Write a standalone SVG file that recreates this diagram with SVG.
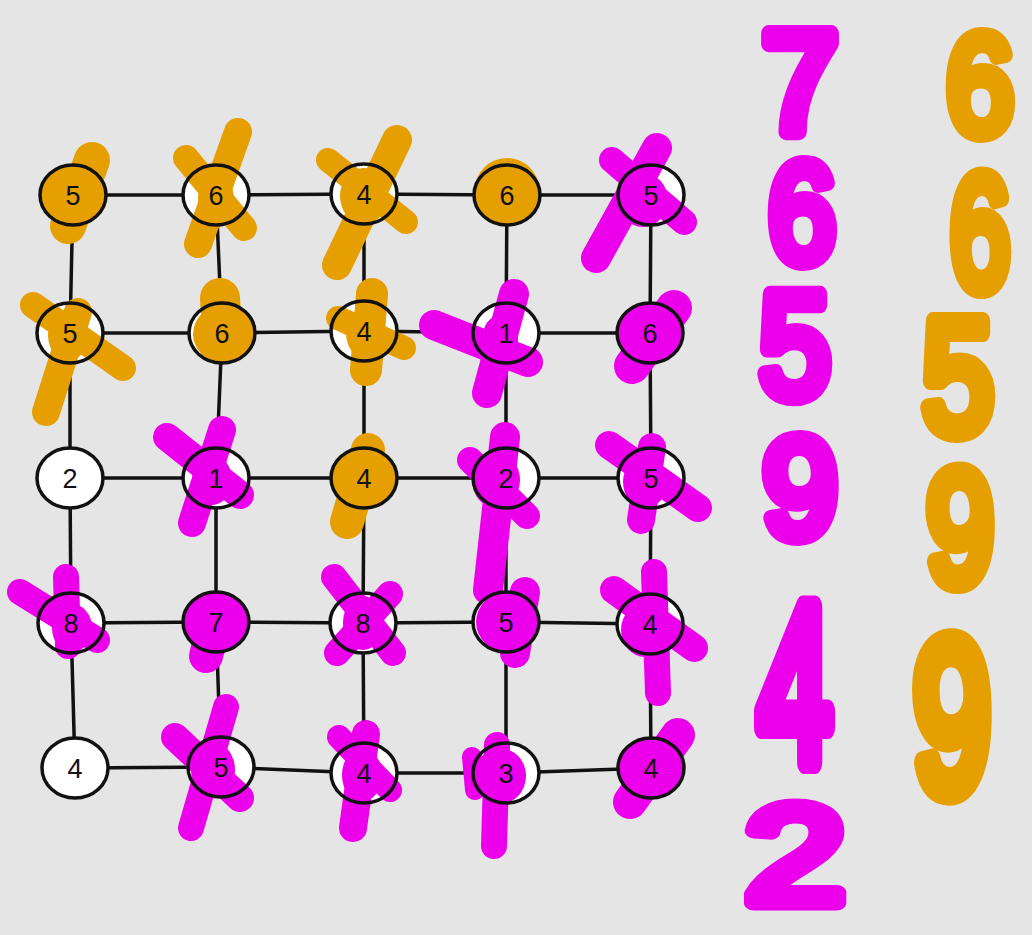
<svg xmlns="http://www.w3.org/2000/svg" width="1032" height="935" viewBox="0 0 1032 935">
<style>
.bg{fill:#e5e5e5}
.e{stroke:#111;stroke-width:3.5;fill:none}
.w{fill:#fff}
.po{stroke:#e69f00;fill:none;stroke-linecap:round;stroke-linejoin:round}
.pm{stroke:#ec00ec;fill:none;stroke-linecap:round;stroke-linejoin:round}
.fo{fill:#e69f00}
.fm{fill:#ec00ec}
.ring{fill:none;stroke:#111;stroke-width:3.5}
.lbl{font-family:"Liberation Sans",Arial,sans-serif;font-size:27px;fill:#111;text-anchor:middle}
.hm{font-family:"Liberation Sans",Arial,sans-serif;fill:#ec00ec;stroke:#ec00ec;stroke-width:15;stroke-linejoin:round;stroke-linecap:round;text-anchor:middle}
.ho{font-family:"Liberation Sans",Arial,sans-serif;fill:#e69f00;stroke:#e69f00;stroke-width:15;stroke-linejoin:round;stroke-linecap:round;text-anchor:middle}
</style>
<rect class="bg" x="0" y="0" width="1032" height="935"/>
<g id="connectors" class="e">
<polyline points="73,195 216,195 364,194 507,195 651,195"/>
<polyline points="70,333 222,333 364,331 506,333 650,333"/>
<polyline points="70,478 216,478 364,478 506,478 651,478"/>
<polyline points="71,623 216,622 363,623 506,622 650,624"/>
<polyline points="75,768 221,767 364,773 506,773 651,768"/>
<polyline points="73,195 70,333 70,478 71,623 75,768"/>
<polyline points="216,195 222,333 216,478 216,622 221,767"/>
<polyline points="364,194 364,331 364,478 363,623 364,773"/>
<polyline points="507,195 506,333 506,478 506,622 506,773"/>
<polyline points="651,195 650,333 651,478 650,624 651,768"/>
</g>
<g id="n11"><ellipse class="w" cx="73" cy="195" rx="33" ry="30"/><ellipse class="fo" cx="73" cy="195" rx="33" ry="30"/><path class="po" stroke-width="36" d="M92,160 L68,226"/><ellipse class="ring" cx="73" cy="195" rx="33" ry="30"/><text class="lbl" x="73" y="205">5</text></g>
<g id="n12"><ellipse class="w" cx="216" cy="195" rx="33" ry="30"/><ellipse class="fo" cx="216" cy="200" rx="18" ry="28"/><path class="po" stroke-width="28" d="M238,132 L198,244"/><path class="po" stroke-width="26" d="M186,158 L244,228"/><ellipse class="ring" cx="216" cy="195" rx="33" ry="30"/><text class="lbl" x="216" y="205">6</text></g>
<g id="n13"><ellipse class="w" cx="364" cy="194" rx="33" ry="30"/><ellipse class="fo" cx="364" cy="196" rx="24" ry="28"/><path class="po" stroke-width="30" d="M397,140 L337,265"/><path class="po" stroke-width="24" d="M328,160 L406,222"/><ellipse class="ring" cx="364" cy="194" rx="33" ry="30"/><text class="lbl" x="364" y="204">4</text></g>
<g id="n14"><ellipse class="w" cx="507" cy="195" rx="33" ry="30"/><ellipse class="fo" cx="507" cy="192" rx="33" ry="34"/><ellipse class="ring" cx="507" cy="195" rx="33" ry="30"/><text class="lbl" x="507" y="205">6</text></g>
<g id="n15"><ellipse class="w" cx="651" cy="195" rx="33" ry="30"/><ellipse class="fm" cx="643" cy="200" rx="25" ry="27"/><path class="pm" stroke-width="30" d="M657,148 L596,258"/><path class="pm" stroke-width="26" d="M612,160 L684,222"/><ellipse class="ring" cx="651" cy="195" rx="33" ry="30"/><text class="lbl" x="651" y="205">5</text></g>
<g id="n21"><ellipse class="w" cx="70" cy="333" rx="33" ry="30"/><ellipse class="fo" cx="68" cy="335" rx="20" ry="26"/><path class="po" stroke-width="26" d="M33,305 L123,368"/><path class="po" stroke-width="28" d="M78,312 L46,412"/><ellipse class="ring" cx="70" cy="333" rx="33" ry="30"/><text class="lbl" x="70" y="343">5</text></g>
<g id="n22"><ellipse class="w" cx="222" cy="333" rx="33" ry="30"/><ellipse class="fo" cx="224" cy="334" rx="31" ry="29"/><path class="po" stroke-width="40" d="M220,298 L222,330"/><ellipse class="ring" cx="222" cy="333" rx="33" ry="30"/><text class="lbl" x="222" y="343">6</text></g>
<g id="n23"><ellipse class="w" cx="364" cy="331" rx="33" ry="30"/><ellipse class="fo" cx="366" cy="333" rx="20" ry="26"/><path class="po" stroke-width="32" d="M372,294 L366,370"/><path class="po" stroke-width="24" d="M338,318 L404,348"/><ellipse class="ring" cx="364" cy="331" rx="33" ry="30"/><text class="lbl" x="364" y="341">4</text></g>
<g id="n24"><ellipse class="w" cx="506" cy="333" rx="33" ry="30"/><ellipse class="fm" cx="500" cy="340" rx="18" ry="25"/><path class="pm" stroke-width="30" d="M434,325 L528,362"/><path class="pm" stroke-width="30" d="M514,294 L487,393"/><ellipse class="ring" cx="506" cy="333" rx="33" ry="30"/><text class="lbl" x="506" y="343">1</text></g>
<g id="n25"><ellipse class="w" cx="650" cy="333" rx="33" ry="30"/><ellipse class="fm" cx="650" cy="333" rx="33" ry="30"/><path class="pm" stroke-width="36" d="M674,308 L632,366"/><ellipse class="ring" cx="650" cy="333" rx="33" ry="30"/><text class="lbl" x="650" y="343">6</text></g>
<g id="n31"><ellipse class="w" cx="70" cy="478" rx="33" ry="30"/><ellipse class="ring" cx="70" cy="478" rx="33" ry="30"/><text class="lbl" x="70" y="488">2</text></g>
<g id="n32"><ellipse class="w" cx="216" cy="478" rx="33" ry="30"/><ellipse class="fm" cx="212" cy="480" rx="20" ry="25"/><path class="pm" stroke-width="28" d="M167,437 L240,495"/><path class="pm" stroke-width="28" d="M222,430 L192,523"/><ellipse class="ring" cx="216" cy="478" rx="33" ry="30"/><text class="lbl" x="216" y="488">1</text></g>
<g id="n33"><ellipse class="w" cx="364" cy="478" rx="33" ry="30"/><ellipse class="fo" cx="364" cy="478" rx="33" ry="30"/><path class="po" stroke-width="34" d="M368,450 L347,522"/><ellipse class="ring" cx="364" cy="478" rx="33" ry="30"/><text class="lbl" x="364" y="488">4</text></g>
<g id="n34"><ellipse class="w" cx="506" cy="478" rx="33" ry="30"/><ellipse class="fm" cx="496" cy="480" rx="24" ry="28"/><path class="pm" stroke-width="30" d="M505,437 L488,590"/><path class="pm" stroke-width="26" d="M470,460 L527,516"/><ellipse class="ring" cx="506" cy="478" rx="33" ry="30"/><text class="lbl" x="506" y="488">2</text></g>
<g id="n35"><ellipse class="w" cx="651" cy="478" rx="33" ry="30"/><ellipse class="fm" cx="645" cy="482" rx="22" ry="26"/><path class="pm" stroke-width="28" d="M609,445 L698,508"/><path class="pm" stroke-width="28" d="M652,447 L641,520"/><ellipse class="ring" cx="651" cy="478" rx="33" ry="30"/><text class="lbl" x="651" y="488">5</text></g>
<g id="n41"><ellipse class="w" cx="71" cy="623" rx="33" ry="30"/><ellipse class="fm" cx="72" cy="628" rx="20" ry="24"/><path class="pm" stroke-width="26" d="M20,592 L97,640"/><path class="pm" stroke-width="26" d="M66,577 L68,646"/><ellipse class="ring" cx="71" cy="623" rx="33" ry="30"/><text class="lbl" x="71" y="633">8</text></g>
<g id="n42"><ellipse class="w" cx="216" cy="622" rx="33" ry="30"/><ellipse class="fm" cx="216" cy="622" rx="33" ry="30"/><path class="pm" stroke-width="34" d="M212,632 L206,656"/><ellipse class="ring" cx="216" cy="622" rx="33" ry="30"/><text class="lbl" x="216" y="632">7</text></g>
<g id="n43"><ellipse class="w" cx="363" cy="623" rx="33" ry="30"/><ellipse class="fm" cx="363" cy="623" rx="20" ry="27"/><path class="pm" stroke-width="26" d="M334,577 L393,653"/><path class="pm" stroke-width="26" d="M390,594 L337,653"/><ellipse class="ring" cx="363" cy="623" rx="33" ry="30"/><text class="lbl" x="363" y="633">8</text></g>
<g id="n44"><ellipse class="w" cx="506" cy="622" rx="33" ry="30"/><ellipse class="fm" cx="508" cy="622" rx="32" ry="30"/><path class="pm" stroke-width="30" d="M525,592 L515,653"/><ellipse class="ring" cx="506" cy="622" rx="33" ry="30"/><text class="lbl" x="506" y="632">5</text></g>
<g id="n45"><ellipse class="w" cx="650" cy="624" rx="33" ry="30"/><ellipse class="fm" cx="645" cy="630" rx="24" ry="27"/><path class="pm" stroke-width="28" d="M614,590 L694,648"/><path class="pm" stroke-width="26" d="M654,572 L658,693"/><ellipse class="ring" cx="650" cy="624" rx="33" ry="30"/><text class="lbl" x="650" y="634">4</text></g>
<g id="n51"><ellipse class="w" cx="75" cy="768" rx="33" ry="30"/><ellipse class="ring" cx="75" cy="768" rx="33" ry="30"/><text class="lbl" x="75" y="778">4</text></g>
<g id="n52"><ellipse class="w" cx="221" cy="767" rx="33" ry="30"/><ellipse class="fm" cx="213" cy="770" rx="22" ry="28"/><path class="pm" stroke-width="26" d="M226,707 L191,828"/><path class="pm" stroke-width="28" d="M175,737 L240,798"/><ellipse class="ring" cx="221" cy="767" rx="33" ry="30"/><text class="lbl" x="221" y="777">5</text></g>
<g id="n53"><ellipse class="w" cx="364" cy="773" rx="33" ry="30"/><ellipse class="fm" cx="362" cy="775" rx="20" ry="27"/><path class="pm" stroke-width="24" d="M339,737 L390,790"/><path class="pm" stroke-width="28" d="M366,734 L353,828"/><ellipse class="ring" cx="364" cy="773" rx="33" ry="30"/><text class="lbl" x="364" y="783">4</text></g>
<g id="n54"><ellipse class="w" cx="506" cy="773" rx="33" ry="30"/><ellipse class="fm" cx="500" cy="776" rx="26" ry="28"/><path class="pm" stroke-width="26" d="M497,745 L494,846"/><path class="pm" stroke-width="20" d="M472,757 L475,790"/><ellipse class="ring" cx="506" cy="773" rx="33" ry="30"/><text class="lbl" x="506" y="783">3</text></g>
<g id="n55"><ellipse class="w" cx="651" cy="768" rx="33" ry="30"/><ellipse class="fm" cx="651" cy="768" rx="33" ry="30"/><path class="pm" stroke-width="34" d="M678,735 L630,802"/><ellipse class="ring" cx="651" cy="768" rx="33" ry="30"/><text class="lbl" x="651" y="778">4</text></g>
<g id="scribbles-magenta">
<text class="hm" font-size="130" transform="translate(800,132) scale(1.05,1.1)">7</text>
<text class="hm" font-size="135" transform="translate(802,262) scale(0.9,1.05)">6</text>
<text class="hm" font-size="135" transform="translate(795,397) scale(0.95,1.1)">5</text>
<text class="hm" font-size="135" transform="translate(800,537) scale(1,1.05)">9</text>
<text class="hm" font-size="140" transform="translate(795,762) scale(0.95,1.6)">4</text>
<text class="hm" font-size="140" transform="translate(795,903) scale(1.3,1.0)">2</text>
</g>
<g id="scribbles-orange">
<text class="ho" font-size="135" transform="translate(980,134) scale(0.9,1.05)">6</text>
<text class="ho" font-size="135" transform="translate(980,288) scale(0.8,1.2)">6</text>
<text class="ho" font-size="135" transform="translate(958,432) scale(0.95,1.2)">5</text>
<text class="ho" font-size="135" transform="translate(960,583) scale(0.9,1.2)">9</text>
<text class="ho" font-size="140" transform="translate(952,792) scale(1,1.55)">9</text>
</g>
</svg>
